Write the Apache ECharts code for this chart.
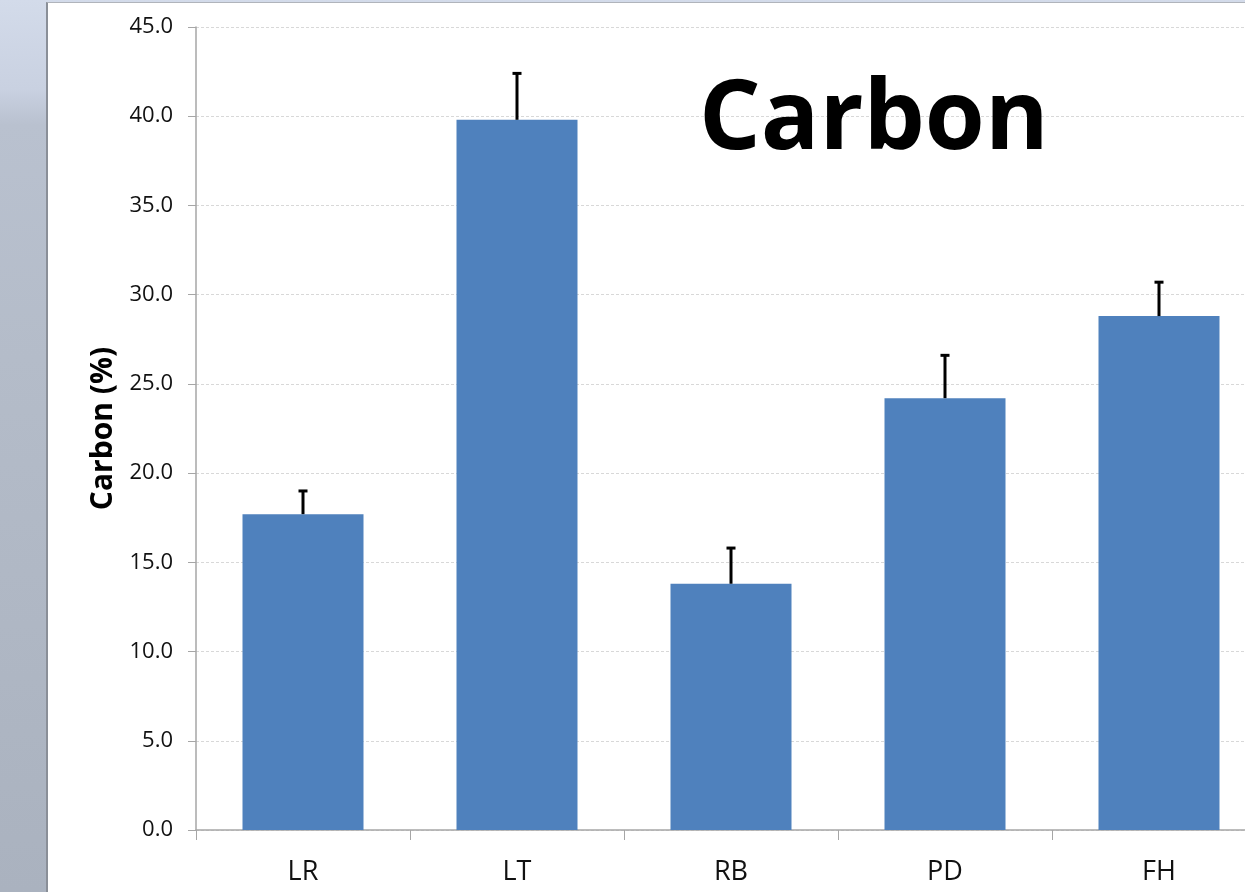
<!DOCTYPE html>
<html>
<head>
<meta charset="utf-8">
<script src="https://cdn.jsdelivr.net/npm/echarts@6/dist/echarts.min.js"></script>
<style>
  html, body { margin: 0; padding: 0; width: 1245px; height: 892px; overflow: hidden; }
  body { background: linear-gradient(180deg, #d3dbea 0%, #c9d1e1 10%, #b9c1cf 14%, #b4bcc9 40%, #aab2bf 100%); position: relative; }
  .panel { position: absolute; left: 46px; top: 2px; width: 1220px; height: 920px; background: #fff; border-left: 2px solid #8a8f98; border-top: 1px solid #b0b4bb; }
  /* 图表比窗口宽，右侧被裁掉 */
  #main { position: absolute; left: 0; top: 0; width: 1300px; height: 892px; }
</style>
</head>
<body>
<div class="panel"></div>
<div id="main"></div>
<script>
// 数据
const categories = ["LR", "LT", "RB", "PD", "FH"];
const carbonMean = [17.7, 39.8, 13.8, 24.2, 28.8];
const carbonErrTop = [19.0, 42.4, 15.8, 26.6, 30.7];

const chartDom = document.getElementById("main");
const myChart = echarts.init(chartDom);

const option = {
  animation: false,
  backgroundColor: "transparent",
  title: {
    text: "Carbon",
    left: 694,
    top: 68,
    textStyle: {
      fontFamily: "Open Sans",
      fontWeight: "bold",
      fontSize: 97,
      color: "#000"
    }
  },
  grid: {
    left: 196,
    right: 34,
    top: 27,
    bottom: 62
  },
  xAxis: {
    type: "category",
    data: categories,
    axisLine: { lineStyle: { color: "#a6a6a6", width: 1.5 } },
    axisTick: { show: true, length: 10, lineStyle: { color: "#a6a6a6" } },
    axisLabel: {
      fontFamily: "Open Sans",
      fontSize: 27,
      color: "#111",
      margin: 29
    }
  },
  yAxis: {
    type: "value",
    min: 0,
    max: 45,
    interval: 5,
    name: "Carbon (%)",
    nameLocation: "middle",
    nameGap: 75,
    nameTextStyle: {
      fontFamily: "Open Sans",
      fontWeight: "bold",
      fontSize: 30,
      color: "#000"
    },
    axisLine: { show: true, lineStyle: { color: "#a6a6a6", width: 1.5 } },
    axisTick: { show: true, length: 8, lineStyle: { color: "#a6a6a6" } },
    axisLabel: {
      fontFamily: "Open Sans",
      fontSize: 22,
      color: "#111",
      margin: 23,
      formatter: (v) => v.toFixed(1)
    },
    splitLine: { lineStyle: { color: "#d8d8d8", type: [3, 2] } }
  },
  series: [
    {
      name: "Carbon",
      type: "bar",
      data: carbonMean,
      barWidth: 121,
      itemStyle: { color: "#4f81bd" },
      z: 2
    },
    {
      name: "error",
      type: "custom",
      z: 3,
      data: carbonErrTop.map((v, i) => [i, carbonMean[i], v]),
      renderItem: function (params, api) {
        const base = api.coord([api.value(0), api.value(1)]);
        const top = api.coord([api.value(0), api.value(2)]);
        const half = 4.5;
        return {
          type: "group",
          children: [
            {
              type: "line",
              shape: { x1: base[0], y1: base[1], x2: top[0], y2: top[1] },
              style: { stroke: "#000", lineWidth: 3 }
            },
            {
              type: "line",
              shape: { x1: top[0] - half, y1: top[1], x2: top[0] + half, y2: top[1] },
              style: { stroke: "#000", lineWidth: 3 }
            }
          ]
        };
      }
    }
  ]
};

option && myChart.setOption(option);
</script>
</body>
</html>
